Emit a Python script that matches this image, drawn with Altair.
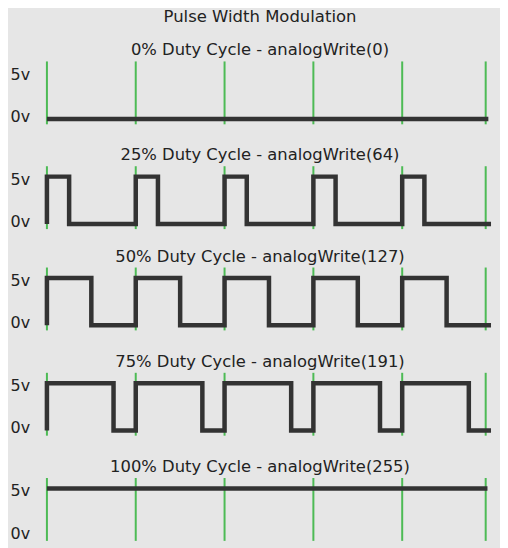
import altair as alt
import pandas as pd

# ---- data -----------------------------------------------------------------
main_title = "Pulse Width Modulation"
panel_titles = [
    "0% Duty Cycle - analogWrite(0)",
    "25% Duty Cycle - analogWrite(64)",
    "50% Duty Cycle - analogWrite(127)",
    "75% Duty Cycle - analogWrite(191)",
    "100% Duty Cycle - analogWrite(255)",
]
# green period markers (time in PWM periods)
period_marks = [0, 1, 2, 3, 4, 4.94]

# waveform edges (time in periods, volts), drawn as step-after lines
t_0 = [0, 4.97]
v_0 = [0, 0]
t_25 = [0, 0, 0.25, 1, 1.25, 2, 2.25, 3, 3.25, 4, 4.25, 5]
v_25 = [0, 5, 0, 5, 0, 5, 0, 5, 0, 5, 0, 0]
t_50 = [0, 0, 0.5, 1, 1.5, 2, 2.5, 3, 3.5, 4, 4.5, 5]
v_50 = [0, 5, 0, 5, 0, 5, 0, 5, 0, 5, 0, 0]
t_75 = [0, 0, 0.75, 1, 1.75, 2, 2.75, 3, 3.75, 4, 4.75, 5]
v_75 = [0, 5, 0, 5, 0, 5, 0, 5, 0, 5, 0, 0]
t_100 = [0, 4.96]
v_100 = [5, 5]

y_labels = [0, 5]

# ---- tables ------------------------------------------------------------------
series = [(t_0, v_0), (t_25, v_25), (t_50, v_50), (t_75, v_75), (t_100, v_100)]
rows = []
for k, (ts, vs) in enumerate(series):
    for i, (t, v) in enumerate(zip(ts, vs)):
        rows.append({"panel": k, "i": i, "t": t, "v": v})
wave_df = pd.DataFrame(rows)
marks_df = pd.DataFrame({"t": period_marks})

BG = "#e6e6e6"
INK = "#222222"
WAVE = "#333333"
GREEN = "#4dbb55"
FONT = "DejaVu Sans"

x_scale = alt.Scale(domain=[0, 5], nice=False, zero=False)
y_scale = alt.Scale(domain=[-0.55, 6.1], nice=False, zero=False)


def panel(k):
    guides = alt.Chart(marks_df).mark_rule(color=GREEN, strokeWidth=2).encode(
        x=alt.X("t:Q", scale=x_scale, axis=None)
    )
    wave = (
        alt.Chart(wave_df)
        .transform_filter(alt.datum.panel == k)
        .mark_line(
            interpolate="step-after",
            color=WAVE,
            strokeWidth=4.5,
            strokeJoin="miter",
            clip=False,
        )
        .encode(
            x=alt.X("t:Q", scale=x_scale, axis=None),
            y=alt.Y(
                "v:Q",
                scale=y_scale,
                axis=alt.Axis(
                    values=y_labels,
                    labelExpr="datum.value + 'v'",
                    domain=False,
                    ticks=False,
                    grid=False,
                    title=None,
                    labelAlign="left",
                    labelBaseline="middle",
                    labelPadding=37,
                    labelFontSize=16,
                    labelFont=FONT,
                    labelColor=INK,
                    labelOffset={
                        "condition": {"test": "datum.value > 2", "value": 2.5},
                        "value": -2.5,
                    },
                ),
            ),
            order=alt.Order("i:Q"),
        )
    )
    return alt.layer(guides, wave).properties(
        width=445,
        height=63,
        title=alt.TitleParams(
            panel_titles[k],
            fontSize=16.4,
            font=FONT,
            fontWeight="normal",
            color=INK,
            anchor="middle",
            offset=1.6,
            dx=-9,
        ),
    )


group_23 = alt.vconcat(panel(1), panel(2), spacing=15.5)
group_45 = alt.vconcat(panel(3), panel(4), spacing=19.4)

chart = (
    alt.vconcat(panel(0), group_23, group_45, spacing=19)
    .properties(
        title=alt.TitleParams(
            main_title,
            fontSize=16.5,
            font=FONT,
            fontWeight="normal",
            color=INK,
            anchor="middle",
            offset=7.8,
            dy=-9.5,
            dx=5,
        ),
        background=BG,
        padding={"left": 2, "top": 0, "right": 0, "bottom": 7},
    )
    .configure_view(stroke=None)
    .configure_concat(spacing=20)
)

chart.save("out.html", embed_options={"renderer": "svg", "actions": False})
